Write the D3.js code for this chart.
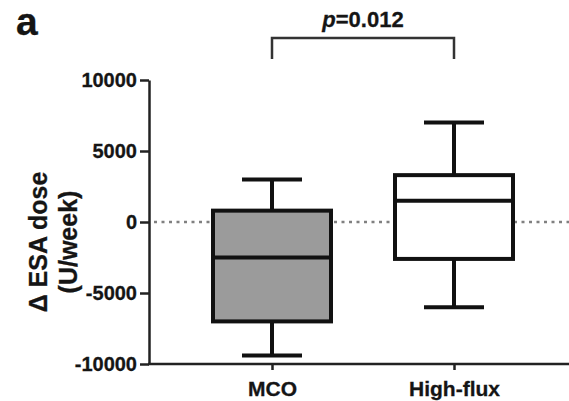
<!DOCTYPE html>
<meta charset="utf-8">
<body style="margin:0;background:#fff">
<div id="div-svg"></div>
<style>
  text { font-family: "Liberation Sans", Arial, sans-serif; font-weight: bold; fill: #151515; stroke: #151515; stroke-width: 0.3px; }
</style>
<script src="https://d3js.org/d3.v7.min.js"></script>
<script>
    var width = 569;
    var height = 401;

    // data
    var categories = ["MCO", "High-flux"];
    var whiskerLow = [-9400, -6000];
    var q1 = [-7000, -2600];
    var median = [-2500, 1500];
    var q3 = [800, 3300];
    var whiskerHigh = [3000, 7000];
    var yTicks = [-10000, -5000, 0, 5000, 10000];
    var pLabel = "=0.012";

    var boxFill = ["#9b9b9b", "#ffffff"];
    var boxW = 118, capW = 60;

    var svg = d3.select("#div-svg").append("svg")
        .attr("width", width)
        .attr("height", height);

    var y = d3.scaleLinear().domain([-10000, 10000]).range([364, 80]);
    var x = d3.scalePoint().domain(categories).range([272, 454]);
    var axisX = 149;

    // dotted zero line
    svg.append("line")
      .attr("x1", axisX + 5).attr("x2", width)
      .attr("y1", y(0)).attr("y2", y(0))
      .attr("stroke", "#808080").attr("stroke-width", 2.4)
      .attr("stroke-dasharray", "3,4.5");

    // y axis
    var gy = svg.append("g")
      .attr("transform", "translate(" + axisX + ",0)")
      .call(d3.axisLeft(y).tickValues(yTicks).tickFormat(function(d){return String(d);})
        .tickSize(9).tickPadding(3).tickSizeOuter(0));
    gy.select(".domain").attr("stroke", "#222").attr("stroke-width", 2.5);
    gy.selectAll(".tick line").attr("stroke", "#222").attr("stroke-width", 2.5);
    gy.selectAll(".tick text").style("font-size", "20px").attr("fill", "#151515");

    // x axis
    svg.append("line")
      .attr("x1", axisX - 1).attr("x2", width)
      .attr("y1", y(-10000)).attr("y2", y(-10000))
      .attr("stroke", "#222").attr("stroke-width", 2.5);
    var gx = svg.append("g")
      .attr("transform", "translate(0," + y(-10000) + ")")
      .call(d3.axisBottom(x).tickSize(6).tickPadding(11));
    gx.select(".domain").remove();
    gx.selectAll(".tick line").attr("stroke", "#222").attr("stroke-width", 2.5);
    gx.selectAll(".tick text").style("font-size", "21px").attr("fill", "#151515");

    // boxes
    var idx = d3.range(categories.length);
    var g = svg.selectAll("g.box").data(idx).enter().append("g").attr("class", "box");
    g.append("line")
      .attr("x1", function(i){return x(categories[i]);})
      .attr("x2", function(i){return x(categories[i]);})
      .attr("y1", function(i){return y(whiskerLow[i]);})
      .attr("y2", function(i){return y(whiskerHigh[i]);})
      .attr("stroke", "#111").attr("stroke-width", 4);
    g.selectAll("line.cap")
      .data(function(i){return [[i, whiskerLow[i]], [i, whiskerHigh[i]]];})
      .enter().append("line").attr("class", "cap")
      .attr("x1", function(d){return x(categories[d[0]]) - capW/2;})
      .attr("x2", function(d){return x(categories[d[0]]) + capW/2;})
      .attr("y1", function(d){return y(d[1]);})
      .attr("y2", function(d){return y(d[1]);})
      .attr("stroke", "#111").attr("stroke-width", 4);
    g.append("rect")
      .attr("x", function(i){return x(categories[i]) - boxW/2;})
      .attr("width", boxW)
      .attr("y", function(i){return y(q3[i]);})
      .attr("height", function(i){return y(q1[i]) - y(q3[i]);})
      .attr("fill", function(i){return boxFill[i];})
      .attr("stroke", "#111").attr("stroke-width", 4);
    g.append("line")
      .attr("x1", function(i){return x(categories[i]) - boxW/2;})
      .attr("x2", function(i){return x(categories[i]) + boxW/2;})
      .attr("y1", function(i){return y(median[i]);})
      .attr("y2", function(i){return y(median[i]);})
      .attr("stroke", "#111").attr("stroke-width", 4);

    // significance bracket
    var by = 38;
    svg.append("path")
      .attr("d", d3.line()([[x(categories[0]), 59], [x(categories[0]), by], [x(categories[1]), by], [x(categories[1]), 59]]))
      .attr("fill", "none").attr("stroke", "#333").attr("stroke-width", 2.5);
    var pt = svg.append("text")
      .attr("x", (x(categories[0]) + x(categories[1])) / 2)
      .attr("y", 27).attr("text-anchor", "middle")
      .style("font-size", "22px");
    pt.append("tspan").style("font-style", "italic").text("p");
    pt.append("tspan").text(pLabel);

    // y label
    var yl = svg.append("text")
      .attr("transform", "translate(47,242) rotate(-90)")
      .attr("text-anchor", "middle")
      .style("font-size", "25px");
    yl.append("tspan").attr("x", 0).attr("y", 0).text("\u0394 ESA dose");
    yl.append("tspan").attr("x", 0).attr("y", 30).text("(U/week)");

    // panel letter
    svg.append("text").attr("x", 16).attr("y", 35)
      .style("font-size", "39px").text("a");
</script>
</body>
